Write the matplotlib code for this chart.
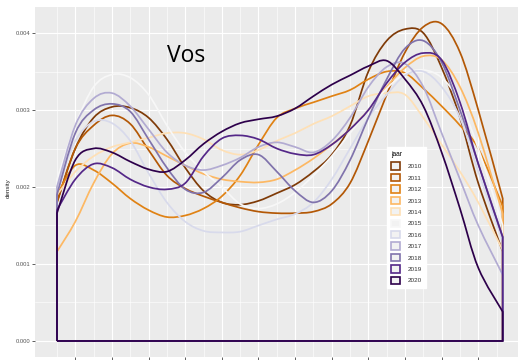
import matplotlib
matplotlib.use('Agg')
import matplotlib.pyplot as plt
import numpy as np
from matplotlib.path import Path
from matplotlib.patches import PathPatch, Patch

days = [0, 15, 30, 45, 60, 75, 90, 105, 120, 135, 150, 165, 180,
        195, 210, 225, 240, 255, 270, 285, 300, 315, 330, 345, 365]

years = ['2010', '2011', '2012', '2013', '2014', '2015',
         '2016', '2017', '2018', '2019', '2020']
colours = ['#7f3b08', '#b35806', '#e08214', '#fdb863', '#fee0b6', '#f7f7f7',
           '#d8daeb', '#b2abd2', '#8073ac', '#542788', '#2d004b']

# density values, x 1e-3
d2010 = [1.80, 2.50, 2.90, 3.04, 3.03, 2.90, 2.62, 2.25, 1.95, 1.80, 1.77, 1.82, 1.92,
         2.03, 2.20, 2.42, 2.80, 3.50, 3.90, 4.05, 4.00, 3.55, 2.90, 2.05, 1.16]
d2011 = [1.80, 2.50, 2.80, 2.93, 2.82, 2.48, 2.15, 1.98, 1.88, 1.80, 1.73, 1.68, 1.66,
         1.66, 1.68, 1.78, 2.05, 2.60, 3.20, 3.75, 4.08, 4.12, 3.75, 3.00, 1.85]
d2012 = [1.90, 2.28, 2.22, 2.05, 1.85, 1.70, 1.61, 1.63, 1.72, 1.88, 2.15, 2.55, 2.90,
         3.02, 3.10, 3.18, 3.26, 3.40, 3.50, 3.48, 3.28, 3.05, 2.80, 2.50, 1.75]
d2013 = [1.16, 1.55, 2.05, 2.43, 2.57, 2.52, 2.40, 2.28, 2.17, 2.10, 2.07, 2.06, 2.10,
         2.22, 2.37, 2.55, 2.75, 3.00, 3.30, 3.55, 3.70, 3.65, 3.30, 2.70, 1.65]
d2014 = [1.90, 2.20, 2.40, 2.52, 2.58, 2.64, 2.70, 2.70, 2.62, 2.48, 2.42, 2.48, 2.60,
         2.70, 2.82, 2.92, 3.05, 3.18, 3.22, 3.20, 2.90, 2.55, 2.20, 1.80, 1.18]
d2015 = [2.10, 2.80, 3.30, 3.46, 3.42, 3.20, 2.80, 2.45, 2.20, 2.00, 1.78, 1.72, 1.78,
         1.93, 2.15, 2.40, 2.70, 3.00, 3.28, 3.47, 3.52, 3.42, 3.10, 2.50, 1.50]
d2016 = [2.00, 2.60, 2.85, 2.83, 2.60, 2.18, 1.80, 1.55, 1.43, 1.41, 1.42, 1.50, 1.58,
         1.65, 1.80, 2.10, 2.50, 2.90, 3.20, 3.45, 3.50, 3.30, 2.90, 2.20, 1.30]
d2017 = [2.00, 2.80, 3.15, 3.22, 3.05, 2.75, 2.45, 2.28, 2.22, 2.28, 2.38, 2.52, 2.58,
         2.52, 2.45, 2.60, 2.90, 3.30, 3.56, 3.60, 3.30, 2.70, 2.10, 1.50, 0.86]
d2018 = [1.90, 2.70, 3.00, 3.08, 2.98, 2.62, 2.25, 1.97, 1.93, 2.12, 2.35, 2.42, 2.20,
         1.95, 1.80, 1.95, 2.35, 2.90, 3.40, 3.80, 3.90, 3.62, 3.00, 2.30, 1.35]
d2019 = [1.70, 2.10, 2.30, 2.25, 2.10, 2.00, 1.97, 2.05, 2.40, 2.63, 2.67, 2.62, 2.50,
         2.43, 2.42, 2.55, 2.75, 3.00, 3.35, 3.62, 3.74, 3.65, 3.10, 2.30, 1.35]
d2020 = [1.66, 2.35, 2.50, 2.45, 2.33, 2.23, 2.20, 2.35, 2.56, 2.72, 2.83, 2.88, 2.92,
         3.02, 3.18, 3.33, 3.45, 3.57, 3.64, 3.40, 3.05, 2.45, 1.72, 0.95, 0.38]

densities = [d2010, d2011, d2012, d2013, d2014, d2015,
             d2016, d2017, d2018, d2019, d2020]


def density_outline(x, y):
    # closed outline like old geom_density: down to zero at both ends
    pts = np.column_stack([x, y])
    n = len(pts)
    verts = [(x[0], 0.0), tuple(pts[0])]
    codes = [Path.MOVETO, Path.LINETO]
    for i in range(n - 1):
        p0 = pts[i - 1] if i > 0 else pts[i]
        p1 = pts[i]
        p2 = pts[i + 1]
        p3 = pts[i + 2] if i + 2 < n else pts[i + 1]
        c1 = p1 + (p2 - p0) / 6.0
        c2 = p2 - (p3 - p1) / 6.0
        verts += [tuple(c1), tuple(c2), tuple(p2)]
        codes += [Path.CURVE4] * 3
    verts += [(x[-1], 0.0), (x[0], 0.0)]
    codes += [Path.LINETO, Path.LINETO]
    return Path(verts, codes)


fig = plt.figure(figsize=(5.18, 3.6), dpi=100)
ax = fig.add_axes([35 / 518, 3 / 360, 490 / 518, 350 / 360])
ax.set_facecolor('#EBEBEB')
for s in ax.spines.values():
    s.set_visible(False)

x = np.array(days, dtype=float)
for yr, col, d in zip(years, colours, densities):
    y = np.array(d) / 1000.0
    ax.add_patch(PathPatch(density_outline(x, y), facecolor='none',
                           edgecolor=col, lw=1.25, joinstyle='round'))

ax.set_xlim(-18, 383.25)
ax.set_ylim(-0.000208, 0.004338)

ax.set_xticks(np.arange(15, 350, 30))
ax.set_xticks(np.arange(0, 380, 30), minor=True)
ax.set_yticks([0, 0.001, 0.002, 0.003, 0.004])
ax.set_yticks(np.arange(0.0005, 0.0045, 0.001), minor=True)
ax.set_yticklabels(['0.000', '0.001', '0.002', '0.003', '0.004'])
ax.grid(which='major', color='white', lw=0.8)
ax.grid(which='minor', color='white', lw=0.4)
ax.set_axisbelow(True)
ax.tick_params(which='major', length=2.2, width=0.6, color='#444444',
               labelsize=4.2, labelcolor='#555555', pad=1.2, labelbottom=False)
ax.tick_params(which='minor', length=0)
for lab in ax.get_yticklabels():
    lab.set_family('Liberation Sans')

fig.text(8 / 518, 1 - 188 / 360, 'density', rotation=90, ha='center', va='center',
         fontsize=4.5, family='Liberation Sans', color='#222222')
fig.text(186 / 518, 1 - 56 / 360, 'Vos', ha='center', va='center',
         fontsize=16.5, family='Open Sans', color='black')

handles = [Patch(facecolor='#F2F2F2', edgecolor=c, linewidth=1.2) for c in colours]
leg = fig.legend(handles, years, loc='upper left', bbox_to_anchor=(387 / 518, 1 - 147 / 360),
                 title='jaar', fontsize=4.6, title_fontsize=4.8, frameon=True, fancybox=False,
                 facecolor='white', edgecolor='white', framealpha=1,
                 handlelength=1.4, handleheight=1.4, labelspacing=0.63,
                 handletextpad=1.1, borderpad=0.7, borderaxespad=0, alignment='left')
for t in leg.get_texts():
    t.set_family('Liberation Sans')
    t.set_color('#333333')
leg.get_title().set_family('Liberation Sans')

fig.savefig('out.png', dpi=100)
